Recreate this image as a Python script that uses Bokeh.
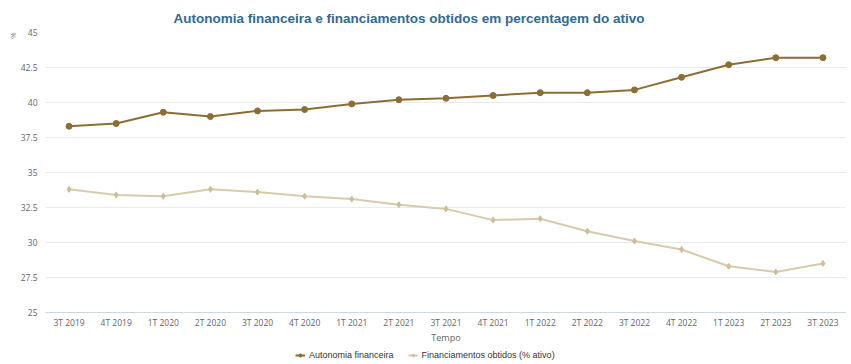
from bokeh.plotting import figure
from bokeh.layouts import column
from bokeh.models import FactorRange, FixedTicker, Legend, LegendItem, Title, Range1d
from bokeh.embed import file_html
from bokeh.resources import INLINE

quarters = ["3T 2019", "4T 2019", "1T 2020", "2T 2020", "3T 2020", "4T 2020",
            "1T 2021", "2T 2021", "3T 2021", "4T 2021", "1T 2022", "2T 2022",
            "3T 2022", "4T 2022", "1T 2023", "2T 2023", "3T 2023"]
autonomia = [38.3, 38.5, 39.3, 39.0, 39.4, 39.5, 39.9, 40.2, 40.3, 40.5, 40.7,
             40.7, 40.9, 41.8, 42.7, 43.2, 43.2]
financiamentos = [33.8, 33.4, 33.3, 33.8, 33.6, 33.3, 33.1, 32.7, 32.4, 31.6,
                  31.7, 30.8, 30.1, 29.5, 28.3, 27.9, 28.5]
y_ticks = [25, 27.5, 30, 32.5, 35, 37.5, 40, 42.5, 45]
y_tick_labels = ["25", "27.5", "30", "32.5", "35", "37.5", "40", "42.5", "45"]

title_text = "Autonomia financeira e financiamentos obtidos em percentagem do ativo"
name_a = "Autonomia financeira"
name_f = "Financiamentos obtidos (% ativo)"

col_a = "#8c6e34"
col_f = "#d8cbad"
col_f_mark = "#cdbd98"

W = 846

# ---- main chart ----
p = figure(width=W, height=346, x_range=FactorRange(*quarters),
           y_range=Range1d(25, 45), output_backend="svg", toolbar_location=None,
           min_border_left=45, min_border_right=0, min_border_top=32,
           min_border_bottom=33)

p.title.text = title_text
p.title.align = "left"
p.title.offset = 128
p.title.text_font = "Liberation Sans"
p.title.text_font_size = "13.5px"
p.title.text_font_style = "bold"
p.title.text_color = "#336a8f"
p.title.standoff = 14

la = p.line(quarters, autonomia, line_color=col_a, line_width=2)
ma = p.scatter(quarters, autonomia, marker="circle", size=6, fill_color=col_a,
               line_color=col_a)
lf = p.line(quarters, financiamentos, line_color=col_f, line_width=2)
mf = p.scatter(quarters, financiamentos, marker="diamond", size=6,
               fill_color=col_f_mark, line_color=col_f_mark)

p.outline_line_color = None
p.xgrid.grid_line_color = None
p.ygrid.grid_line_color = "#ebebeb"

p.yaxis.ticker = FixedTicker(ticks=y_ticks)
p.yaxis.major_label_overrides = {t: s for t, s in zip(y_ticks, y_tick_labels)}
p.yaxis.axis_line_color = None
p.yaxis.major_tick_line_color = None
p.yaxis.minor_tick_line_color = None
p.yaxis.major_tick_out = 0
p.yaxis.major_label_text_font = "Open Sans"
p.yaxis.major_label_text_font_size = "8.5px"
p.yaxis.major_label_text_color = "#666666"
p.yaxis.major_label_standoff = 8

p.xaxis.axis_line_color = "#ccd6eb"
p.xaxis.major_tick_line_color = None
p.xaxis.minor_tick_line_color = None
p.xaxis.major_tick_out = 0
p.xaxis.major_label_text_font = "Open Sans"
p.xaxis.major_label_text_font_size = "8.5px"
p.xaxis.major_label_text_color = "#666666"
p.xaxis.major_label_standoff = 4
p.xaxis.axis_label = "Tempo"
p.xaxis.axis_label_text_font = "Open Sans"
p.xaxis.axis_label_text_font_size = "9px"
p.xaxis.axis_label_text_font_style = "normal"
p.xaxis.axis_label_text_color = "#666666"
p.xaxis.axis_label_standoff = 0

pct = Title(text="%", align="right", text_font="Open Sans", text_font_size="8px",
            text_font_style="normal", text_color="#888888", offset=0, standoff=0)
p.add_layout(pct, "left")

# ---- legend strip ----
lg = figure(width=W, height=16, x_range=FactorRange(*quarters),
            y_range=Range1d(0, 1), output_backend="svg", toolbar_location=None,
            min_border_left=0, min_border_right=0, min_border_top=0,
            min_border_bottom=0)
lg.axis.visible = False
lg.grid.visible = False
lg.outline_line_color = None
ga = lg.line(quarters, autonomia, line_color=col_a, line_width=2)
gma = lg.scatter(quarters, autonomia, marker="circle", size=6, fill_color=col_a,
                 line_color=col_a)
gf = lg.line(quarters, financiamentos, line_color=col_f, line_width=2)
gmf = lg.scatter(quarters, financiamentos, marker="diamond", size=6,
                 fill_color=col_f_mark, line_color=col_f_mark)

legend = Legend(items=[LegendItem(label=name_a, renderers=[ga, gma]),
                       LegendItem(label=name_f, renderers=[gf, gmf])],
                orientation="horizontal", location=(250, 2),
                label_text_font="Liberation Sans", label_text_font_size="9px",
                label_text_color="#333333", glyph_width=10, glyph_height=8,
                label_standoff=4, spacing=14, padding=0, margin=0,
                border_line_color=None, background_fill_alpha=0)
lg.add_layout(legend)

layout = column(p, lg, spacing=0)
open("out.html", "w").write(file_html(layout, INLINE))
